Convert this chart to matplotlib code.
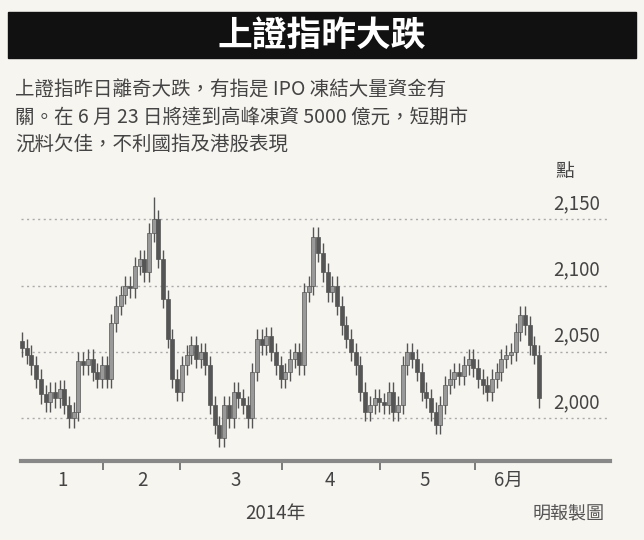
import matplotlib
matplotlib.use("Agg")
import matplotlib.pyplot as plt
from matplotlib.patches import Rectangle

plt.rcParams['font.family'] = ['Noto Sans CJK TC', 'DejaVu Sans']

# 上證指數 daily closes, Jan-Jun 2014
closes = [2053, 2048, 2040, 2030, 2018, 2012, 2020, 2015, 2022, 2010,
          2000, 2005, 2043, 2040, 2045, 2035, 2030, 2040, 2030, 2072,
          2085, 2093, 2100, 2098, 2115, 2120, 2110, 2140, 2150, 2120,
          2090, 2060, 2030, 2020, 2040, 2048, 2055, 2045, 2050, 2040,
          2010, 1995, 1985, 2010, 2000, 2020, 2015, 2010, 2000, 2035,
          2060, 2055, 2062, 2050, 2040, 2030, 2035, 2045, 2050, 2040,
          2095, 2100, 2137, 2125, 2110, 2095, 2100, 2085, 2070, 2060,
          2050, 2040, 2020, 2005, 2010, 2015, 2012, 2010, 2020, 2005,
          2010, 2040, 2050, 2045, 2035, 2020, 2015, 2005, 1995, 2010,
          2025, 2030, 2035, 2032, 2040, 2045, 2038, 2030, 2025, 2020,
          2030, 2035, 2045, 2048, 2050, 2065, 2078, 2070, 2055, 2048, 2015]
first_open = 2058
peak_high = 2167  # intraday high on the February top (index 28)
month_labels = ['1', '2', '3', '4', '5', '6月']
month_label_pos = [8.7, 25.7, 45.5, 65.5, 85.7, 103.4]
month_bounds = [17.2, 33.6, 55.3, 76.2, 96.4]
y_ticks = [2000, 2050, 2100, 2150]

opens = [first_open] + closes[:-1]

fig = plt.figure(figsize=(6.44, 5.40), dpi=100)
fig.patch.set_facecolor('#f7f5f0')

# title bar
fig.patches.append(Rectangle((8/644, 1 - 58/540), 628/644, 46/540,
                             transform=fig.transFigure, color='#111111'))
fig.text(0.5, 1 - 35/540, '上證指昨大跌', color='white', fontsize=25,
         fontweight='bold', ha='center', va='center')
lines = ['上證指昨日離奇大跌，有指是 IPO 凍結大量資金有',
         '關。在 6 月 23 日將達到高峰凍資 5000 億元，短期市',
         '況料欠佳，不利國指及港股表現']
for k, s in enumerate(lines):
    fig.text(15/644, 1 - (90 + 27*k)/540, s, fontsize=14, color='#444444',
             va='center', ha='left')

ax = fig.add_axes([15/644, 1 - 462/540, 595/644, 277/540])
ax.set_facecolor('#f7f5f0')
ax.set_xlim(-1.5, 125.1)
ax.set_ylim(1967, 2176)
for sp in ax.spines.values():
    sp.set_visible(False)

for y in y_ticks:
    ax.axhline(y, xmin=0.01, xmax=1, color='#aaaaaa', lw=1, ls=(0, (1.5, 2.5)), zorder=0)
    ax.text(118, y + 4, f'{y:,}', fontsize=13.5, color='#444444', ha='center', va='bottom')
ax.text(115.5, 2178, '點', fontsize=13.5, color='#444444', ha='center', va='bottom')

for i, (o, c) in enumerate(zip(opens, closes)):
    lo, hi = min(o, c), max(o, c)
    top = peak_high if i == 28 else hi + 7
    col = '#555555' if c < o else '#999999'
    ax.vlines(i, lo - 7, top, color='#555555', lw=1, zorder=2)
    ax.bar(i, max(hi - lo, 1.5), bottom=lo, width=0.85, color=col,
           edgecolor='#555555', lw=0.5, zorder=3)

ax.axhline(1967.5, xmin=0.01, xmax=1, color='#888888', lw=3, clip_on=False)
ax.set_yticks([])
ax.set_xticks(month_label_pos)
ax.set_xticklabels(month_labels, fontsize=13.5, color='#444444')
ax.tick_params(axis='x', which='major', length=0, pad=6)
ax.set_xticks(month_bounds, minor=True)
ax.tick_params(axis='x', which='minor', length=6, color='#666666', width=1.2)

fig.text(275/644, 1 - 514/540, '2014年', fontsize=13.5, color='#444444', ha='center', va='center')
fig.text(605/644, 1 - 514/540, '明報製圖', fontsize=13, color='#555555', ha='right', va='center')

fig.savefig('out.png', dpi=100, facecolor=fig.get_facecolor())
